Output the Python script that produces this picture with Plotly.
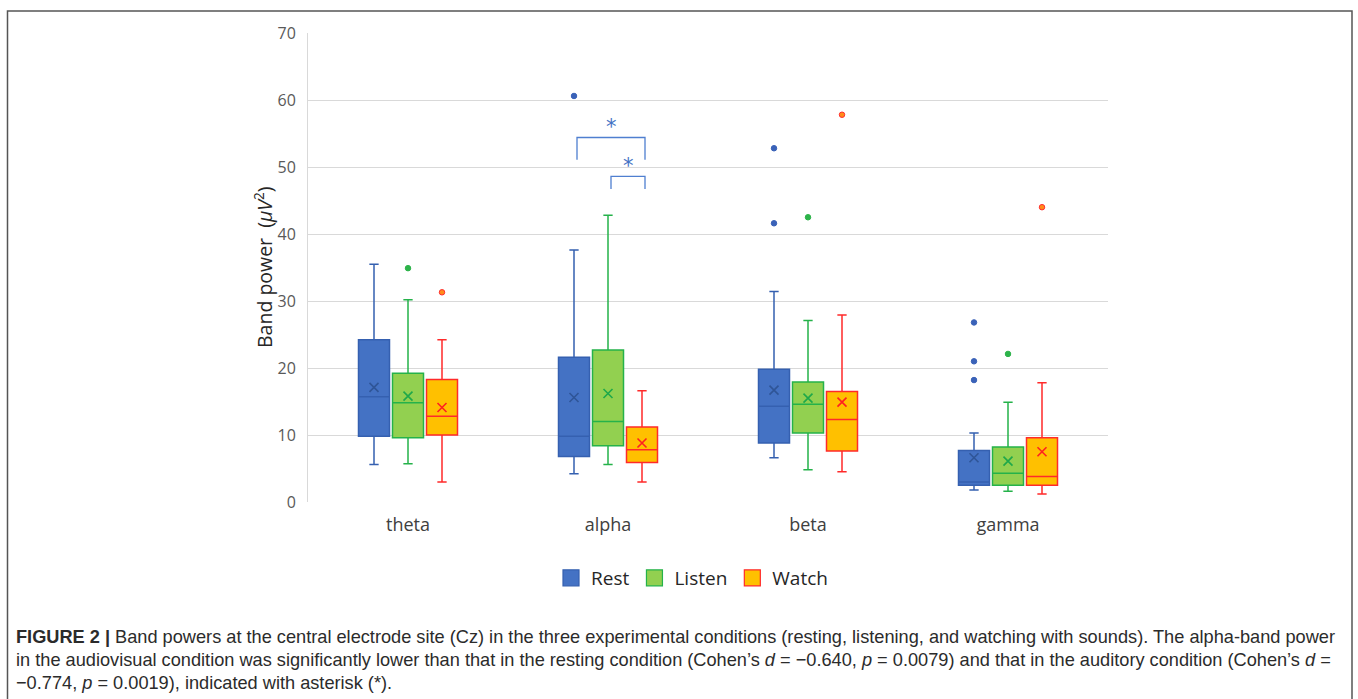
import plotly.graph_objects as go

# ---------------- data ----------------
bands = ["theta", "alpha", "beta", "gamma"]
conditions = ["Rest", "Listen", "Watch"]

lower = {"Rest": [5.6, 4.2, 6.6, 1.8], "Listen": [5.7, 5.6, 4.8, 1.6], "Watch": [3.0, 3.0, 4.5, 1.2]}
q1 = {"Rest": [9.8, 6.8, 8.8, 2.5], "Listen": [9.6, 8.4, 10.3, 2.5], "Watch": [10.0, 5.9, 7.6, 2.5]}
median = {"Rest": [15.7, 9.8, 14.3, 3.0], "Listen": [14.8, 12.0, 14.6, 4.3], "Watch": [12.8, 7.8, 12.3, 3.8]}
q3 = {"Rest": [24.2, 21.6, 19.8, 7.7], "Listen": [19.2, 22.7, 17.9, 8.2], "Watch": [18.3, 11.2, 16.5, 9.6]}
upper = {"Rest": [35.5, 37.6, 31.4, 10.3], "Listen": [30.2, 42.8, 27.1, 14.9], "Watch": [24.2, 16.6, 27.9, 17.8]}
mean = {"Rest": [17.1, 15.6, 16.7, 6.6], "Listen": [15.8, 16.2, 15.5, 6.1], "Watch": [14.1, 8.8, 14.9, 7.5]}
outliers = {
    "Rest": [[], [60.6], [52.8, 41.6], [26.8, 21.0, 18.2]],
    "Listen": [[34.9], [], [42.5], [22.1]],
    "Watch": [[31.3], [], [57.8], [44.0]],
}

# significance brackets in alpha band: (from condition, to condition, top, leg bottom, star y)
brackets = [("Rest", "Watch", 54.4, 51.1, 56.0), ("Listen", "Watch", 48.6, 46.7, 50.2)]

y_ticks = [0, 10, 20, 30, 40, 50, 60, 70]

# ---------------- style ----------------
offset = {"Rest": -0.17, "Listen": 0.0, "Watch": 0.17}
fill = {"Rest": "#4472C4", "Listen": "#92D050", "Watch": "#FFC000"}
edge = {"Rest": "#3560B0", "Listen": "#25B24A", "Watch": "#FF2A2A"}
mark = {"Rest": "#2F5597", "Listen": "#1FA84A", "Watch": "#FF2020"}
out_fill = {"Rest": "#3A62B8", "Listen": "#2DB34A", "Watch": "#FF8C1A"}
out_line = {"Rest": "#3A62B8", "Listen": "#2DB34A", "Watch": "#FF3030"}

W, H = 1358, 699
L, R, T, B = 308, 250, 33, 197
pw, ph = W - L - R, H - T - B


def px_x(p):
    return (p - L) / pw


def px_y(p):
    return (H - B - p) / ph


fig = go.Figure()
for c in conditions:
    xs = [i + offset[c] for i in range(len(bands))]
    fig.add_trace(go.Box(
        name=c, x=xs, q1=q1[c], median=median[c], q3=q3[c],
        lowerfence=lower[c], upperfence=upper[c],
        width=0.155, whiskerwidth=0.3,
        fillcolor=fill[c], line=dict(color=edge[c], width=1.5),
        boxpoints=False, hoverinfo="skip", showlegend=False, legendgroup=c,
    ))
    # legend entry (square swatch)
    fig.add_trace(go.Scatter(
        name=c, x=[None], y=[None], mode="markers", legendgroup=c, showlegend=True,
        marker=dict(symbol="square", size=17, color=fill[c], line=dict(color=edge[c], width=1.2)),
    ))
    # means
    fig.add_trace(go.Scatter(
        x=xs, y=mean[c], mode="markers", showlegend=False, hoverinfo="skip",
        marker=dict(symbol="x-thin", size=9, line=dict(color=mark[c], width=1.6)),
    ))
    # outliers
    ox, oy = [], []
    for i, vals in enumerate(outliers[c]):
        for v in vals:
            ox.append(i + offset[c])
            oy.append(v)
    fig.add_trace(go.Scatter(
        x=ox, y=oy, mode="markers", showlegend=False, hoverinfo="skip",
        marker=dict(size=5.5, color=out_fill[c], line=dict(color=out_line[c], width=1)),
    ))

# brackets
ai = bands.index("alpha")
for a, b, top, leg, sy in brackets:
    xa, xb = ai + offset[a] + 0.015, ai + offset[b] + 0.015
    fig.add_shape(type="path", xref="x", yref="y",
                  path=f"M {xa} {leg} L {xa} {top} L {xb} {top} L {xb} {leg}",
                  line=dict(color="#4F7FD0", width=1.3))
    fig.add_annotation(x=(xa + xb) / 2, y=sy, text="*", showarrow=False, xref="x", yref="y",
                       font=dict(family="DejaVu Sans", size=21, color="#4472C4"), yanchor="middle")

# y-axis title
fig.add_annotation(x=px_x(263), y=px_y(267), xref="paper", yref="paper", textangle=-90,
                   text="Band power&nbsp;&nbsp;(<i>μV</i><sup>2</sup>)", showarrow=False,
                   xanchor="center", yanchor="middle",
                   font=dict(family="Open Sans", size=19.5, color="#262626"))

# frame
fig.add_shape(type="rect", xref="paper", yref="paper",
              x0=px_x(7.5), x1=px_x(1352), y0=px_y(760), y1=px_y(11),
              line=dict(color="#555555", width=1.5), fillcolor="rgba(0,0,0,0)", layer="below")

# caption
cap = [
    "<b>FIGURE 2 |</b> Band powers at the central electrode site (Cz) in the three experimental conditions (resting, listening, and watching with sounds). The alpha-band power",
    "in the audiovisual condition was significantly lower than that in the resting condition (Cohen’s <i>d</i> = −0.640, <i>p</i> = 0.0079) and that in the auditory condition (Cohen’s <i>d</i> =",
    "−0.774, <i>p</i> = 0.0019), indicated with asterisk (*).",
]
for k, line in enumerate(cap):
    fig.add_annotation(x=px_x(14), y=px_y(637 + 23 * k), xref="paper", yref="paper",
                       text=line, showarrow=False, xanchor="left", yanchor="middle",
                       font=dict(family="Liberation Sans", size=18.2, color="#2B2B2B"))

fig.update_layout(
    width=W, height=H,
    margin=dict(l=L, r=R, t=T, b=B, pad=0),
    paper_bgcolor="white", plot_bgcolor="white",
    boxmode="overlay",
    font=dict(family="Open Sans", color="#595959"),
    legend=dict(orientation="h", x=px_x(692), y=px_y(578), xanchor="center", yanchor="middle",
                font=dict(size=19, color="#262626"), itemwidth=30, traceorder="normal"),
    xaxis=dict(range=[-0.5, 3.5], tickvals=list(range(len(bands))), ticktext=bands,
               showgrid=False, zeroline=False, showline=False, ticks="",
               tickfont=dict(size=18, color="#404040"), ticklabelstandoff=10, fixedrange=True),
    yaxis=dict(range=[0, 70], tickvals=y_ticks, showgrid=True, gridcolor="#D9D9D9", gridwidth=1,
               zeroline=False, showline=True, linecolor="#D9D9D9", linewidth=1, ticks="",
               tickfont=dict(size=16, color="#595959"), ticklabelstandoff=8),
)
fig.write_html("out.html")
